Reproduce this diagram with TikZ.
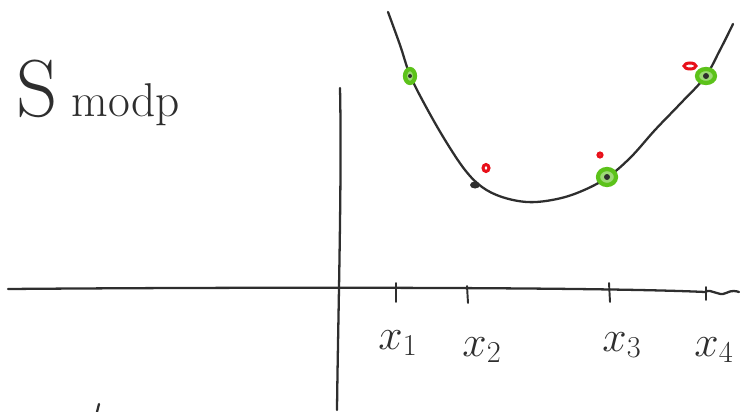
\documentclass[tikz,border=0pt]{standalone}
\usetikzlibrary{calc}
\definecolor{ink}{HTML}{2E2E2E}
\definecolor{pgreen}{HTML}{5CC21A}
\definecolor{pred}{HTML}{E8101A}
\tikzset{
  pen/.style={draw=ink, line width=1.3pt, line cap=round, line join=round},
  tickmark/.style={pen, line width=1.1pt},
  lbl/.style={font=\fontsize{24}{26}\selectfont, text=ink, inner sep=0pt},
  greenpt/.style={draw=pgreen, line width=2.4pt, fill=pgreen!60},
  redmark/.style={draw=pred, line width=1.7pt},
}
\begin{document}
\begin{tikzpicture}[x=0.02cm, y=-0.02cm]
\useasboundingbox (0,0) rectangle (740,412);
% axes
\coordinate (xl) at (8,289);
\coordinate (xr) at (705,292);
\coordinate (yt) at (340,88);
\coordinate (yb) at (337,410);
\draw[pen] (xl) .. controls (250,287) and (600,287) .. (xr);
\draw[pen] (xr) .. controls (712,288) and (718,297) .. (726,293) .. controls (732,290) and (736,291) .. (739,292);
\draw[pen] (yt) .. controls (342,180) and (338,320) .. (yb);
\draw[pen] (99,404) -- (97,412);
% curve
\draw[pen] plot[smooth, tension=0.6] coordinates {(388,12) (400,45) (410,75) (425,105) (445,140) (465,170) (482,187) (502,197) (527,202) (552,200) (577,193) (605,179) (630,158) (655,130) (680,104) (705,77) (720,50) (733,24)};
% ticks
\draw[tickmark] (396,283) -- (396,302);
\draw[tickmark] (467,286) -- (468,303);
\draw[tickmark] (609,283) -- (610,302);
\draw[tickmark] (706,287) -- (706,300);
% labels
\node[lbl] (l1) at (398,343) {$x_1$};
\node[lbl] (l2) at (482,350) {$x_2$};
\node[lbl] (l3) at (622,345) {$x_3$};
\node[lbl] (l4) at (714,350) {$x_4$};
\node[anchor=base west, text=ink, inner sep=0pt] (title) at (16,116) {{\fontsize{46}{48}\selectfont S}\hspace{0.8em}{\fontsize{27}{30}\selectfont modp}};
% points
\coordinate (p1) at (410,76);
\coordinate (p2) at (475,185);
\coordinate (p3) at (607,177);
\coordinate (p4) at (706,76);
\draw[greenpt] (p1) ellipse (5 and 7);
\fill[ink] (p1) circle (2);
\fill[ink] (p2) ellipse (5 and 3.5);
\draw[greenpt] (p3) ellipse (9 and 8);
\fill[ink] (p3) circle (3);
\draw[greenpt] (p4) ellipse (9 and 7);
\fill[ink] (p4) circle (3);
% red marks
\draw[redmark] (486,168) ellipse (3 and 3.5);
\draw[redmark] (600,155) ellipse (2 and 2);
\draw[redmark] (690,66) ellipse (6 and 3);
\end{tikzpicture}
\end{document}
